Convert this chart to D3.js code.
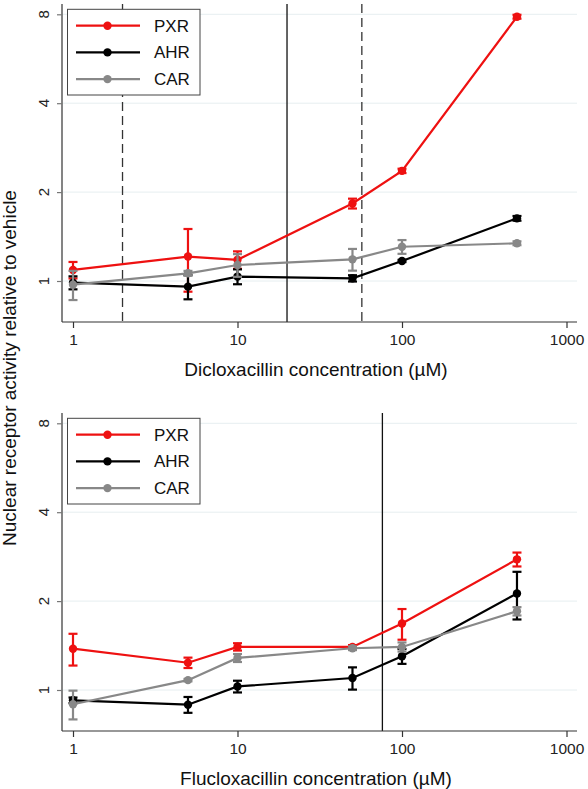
<!DOCTYPE html>
<html>
<head>
<meta charset="utf-8">
<script src="https://cdn.jsdelivr.net/npm/d3@7"></script>
<style>
  html, body { margin: 0; padding: 0; background: #fff; }
  svg { display: block; font-family: "Liberation Sans", Arial, Helvetica, sans-serif; }
</style>
</head>
<body>
<svg id="chart" width="588" height="789"></svg>
<script>
// ---------- data ----------
const concentrations = [1, 5, 10, 50, 100, 500];
const seriesNames = ["PXR", "AHR", "CAR"];
const seriesColors = ["#ee1111", "#000000", "#888888"];

const pxrDiclox    = [1.09, 1.21, 1.18, 1.83, 2.36, 7.85];
const pxrDicloxErr = [0.07, 0.29, 0.08, 0.07, 0.04, 0.12];
const ahrDiclox    = [0.987, 0.957, 1.035, 1.021, 1.169, 1.63];
const ahrDicloxErr = [0.05, 0.09, 0.06, 0.025, 0.01, 0.03];
const carDiclox    = [0.972, 1.062, 1.133, 1.184, 1.306, 1.342];
const carDicloxErr = [0.11, 0.02, 0.10, 0.10, 0.07, 0.02];

const pxrFluclox    = [1.38, 1.237, 1.40, 1.399, 1.68, 2.77];
const pxrFlucloxErr = [0.17, 0.05, 0.04, 0.02, 0.20, 0.15];
const ahrFluclox    = [0.923, 0.892, 1.028, 1.098, 1.301, 2.123];
const ahrFlucloxErr = [0.02, 0.055, 0.047, 0.095, 0.075, 0.39];
const carFluclox    = [0.895, 1.08, 1.284, 1.385, 1.399, 1.848];
const carFlucloxErr = [0.10, 0.01, 0.04, 0.02, 0.05, 0.06];

const xTicks = [1, 10, 100, 1000];
const yTicks = [1, 2, 4, 8];

const dicloxSolidLines = [20];
const dicloxDashedLines = [2, 57];
const flucloxSolidLines = [76];
const flucloxDashedLines = [];

const dicloxTitle = "Dicloxacillin concentration (\u00B5M)";
const flucloxTitle = "Flucloxacillin concentration (\u00B5M)";
const yTitle = "Nuclear receptor activity relative to vehicle";

// ---------- layout ----------
const svg = d3.select("#chart");
const plotLeft = 62, plotRight = 577;
const x = d3.scaleLog().domain([1, 1000]).range([73, 566.5]);

function drawPanel(offsetY, values, errs, solidLines, dashedLines, title) {
  const g = svg.append("g").attr("transform", `translate(0,${offsetY})`);
  const y = d3.scaleLog().base(2).domain([1, 8]).range([281, 14.3]);
  const plotTop = 4, plotBottom = 322;

  // gridlines
  g.selectAll("line.grid").data(yTicks).join("line")
    .attr("x1", plotLeft).attr("x2", plotRight)
    .attr("y1", d => y(d)).attr("y2", d => y(d))
    .attr("stroke", "#e6eef0").attr("stroke-width", 1);

  // reference lines
  g.selectAll("line.solidref").data(solidLines).join("line")
    .attr("x1", d => x(d)).attr("x2", d => x(d))
    .attr("y1", plotTop).attr("y2", plotBottom)
    .attr("stroke", "#111").attr("stroke-width", 1.3);
  g.selectAll("line.dashref").data(dashedLines).join("line")
    .attr("x1", d => x(d)).attr("x2", d => x(d))
    .attr("y1", plotTop).attr("y2", plotBottom)
    .attr("stroke", "#333").attr("stroke-width", 1.3)
    .attr("stroke-dasharray", "9,5");

  // y axis (ticks via d3 axis, labels rotated and placed explicitly)
  const yAxis = d3.axisLeft(y).tickValues(yTicks).tickFormat(d3.format("d")).tickSize(5);
  const ya = g.append("g").attr("transform", `translate(${plotLeft},0)`).call(yAxis);
  ya.select(".domain").remove();
  ya.selectAll(".tick text").remove();
  ya.append("line").attr("x1", 0).attr("x2", 0).attr("y1", plotTop).attr("y2", plotBottom)
    .attr("stroke", "#777").attr("stroke-width", 1.8);
  ya.selectAll(".tick line").attr("stroke", "#777").attr("stroke-width", 1.2);
  g.selectAll("text.ylab").data(yTicks).join("text")
    .attr("class", "ylab")
    .attr("transform", d => `translate(49,${y(d)}) rotate(-90)`)
    .attr("text-anchor", "middle")
    .attr("font-size", 15).attr("fill", "#222")
    .text(d3.format("d"));

  // x axis
  const xAxis = d3.axisBottom(x).tickValues(xTicks).tickFormat(d3.format("d")).tickSize(6).tickPadding(6);
  const xa = g.append("g").attr("transform", `translate(0,${plotBottom})`).call(xAxis);
  xa.select(".domain").remove();
  xa.append("line").attr("x1", plotLeft).attr("x2", plotRight).attr("y1", 0).attr("y2", 0)
    .attr("stroke", "#333").attr("stroke-width", 1.2);
  xa.selectAll(".tick line").attr("stroke", "#333").attr("stroke-width", 1.2);
  xa.selectAll(".tick text").attr("font-size", 15.5).attr("fill", "#222");

  // x title
  g.append("text").attr("x", 316).attr("y", 376)
    .attr("text-anchor", "middle").attr("font-size", 19).attr("fill", "#111")
    .text(title);

  // series
  const line = d3.line().x(d => x(d.c)).y(d => y(d.v));
  seriesNames.forEach((name, i) => {
    const pts = concentrations.map((c, j) => ({ c, v: values[i][j], e: errs[i][j] }));
    const col = seriesColors[i];
    const sg = g.append("g");
    sg.append("path").datum(pts).attr("d", line)
      .attr("fill", "none").attr("stroke", col).attr("stroke-width", 2.2);
    sg.selectAll("line.eb").data(pts).join("line")
      .attr("x1", d => x(d.c)).attr("x2", d => x(d.c))
      .attr("y1", d => y(d.v + d.e)).attr("y2", d => y(d.v - d.e))
      .attr("stroke", col).attr("stroke-width", 2.2);
    sg.selectAll("line.capT").data(pts).join("line")
      .attr("x1", d => x(d.c) - 4.5).attr("x2", d => x(d.c) + 4.5)
      .attr("y1", d => y(d.v + d.e)).attr("y2", d => y(d.v + d.e))
      .attr("stroke", col).attr("stroke-width", 2.2);
    sg.selectAll("line.capB").data(pts).join("line")
      .attr("x1", d => x(d.c) - 4.5).attr("x2", d => x(d.c) + 4.5)
      .attr("y1", d => y(d.v - d.e)).attr("y2", d => y(d.v - d.e))
      .attr("stroke", col).attr("stroke-width", 2.2);
    sg.selectAll("circle").data(pts).join("circle")
      .attr("cx", d => x(d.c)).attr("cy", d => y(d.v)).attr("r", 4.2)
      .attr("fill", col);
  });

  // legend
  const lg = g.append("g");
  lg.append("rect").attr("x", 67.5).attr("y", 9.3).attr("width", 132.5).attr("height", 85.7)
    .attr("fill", "#fff").attr("stroke", "#444").attr("stroke-width", 1);
  seriesNames.forEach((name, i) => {
    const ry = 25.7 + i * 26.7;
    lg.append("line").attr("x1", 76).attr("x2", 140).attr("y1", ry).attr("y2", ry)
      .attr("stroke", seriesColors[i]).attr("stroke-width", 2.2);
    lg.append("circle").attr("cx", 107.5).attr("cy", ry).attr("r", 4.2).attr("fill", seriesColors[i]);
    lg.append("text").attr("x", 154).attr("y", ry + 6).attr("font-size", 17).attr("fill", "#111").text(name);
  });
}

drawPanel(0, [pxrDiclox, ahrDiclox, carDiclox], [pxrDicloxErr, ahrDicloxErr, carDicloxErr],
  dicloxSolidLines, dicloxDashedLines, dicloxTitle);
drawPanel(409, [pxrFluclox, ahrFluclox, carFluclox], [pxrFlucloxErr, ahrFlucloxErr, carFlucloxErr],
  flucloxSolidLines, flucloxDashedLines, flucloxTitle);

// shared y title
svg.append("text")
  .attr("transform", "translate(15.5,368) rotate(-90)")
  .attr("text-anchor", "middle").attr("font-size", 19).attr("fill", "#111")
  .text(yTitle);
</script>
</body>
</html>
